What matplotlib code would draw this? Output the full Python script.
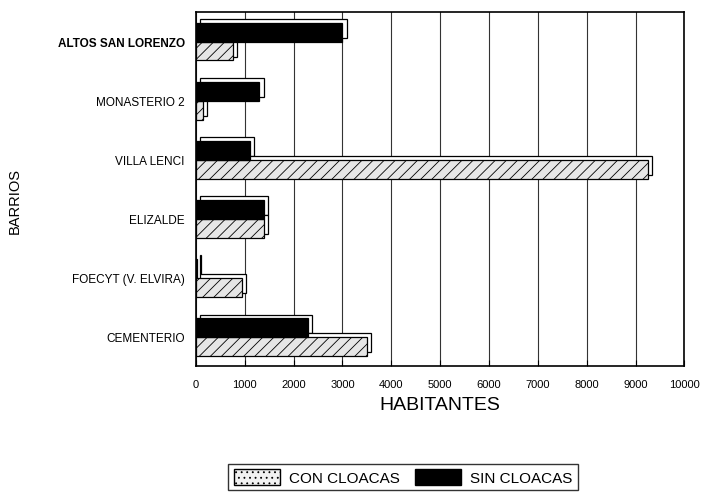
import matplotlib
matplotlib.use("Agg")
import matplotlib.pyplot as plt
import matplotlib.transforms as mtransforms
from matplotlib.patches import Patch
import numpy as np

plt.rcParams['font.family'] = ['Liberation Sans', 'DejaVu Sans']
plt.rcParams['hatch.linewidth'] = 0.6

# datos (de arriba hacia abajo)
barrios = ['ALTOS SAN LORENZO', 'MONASTERIO 2', 'VILLA LENCI',
           'ELIZALDE', 'FOECYT (V. ELVIRA)', 'CEMENTERIO']
con_cloacas = [750, 150, 9250, 1400, 950, 3500]
sin_cloacas = [3000, 1300, 1100, 1400, 30, 2300]

fig = plt.figure(figsize=(7.02, 5.02), dpi=100)
ax = fig.add_axes([0.279, 0.268, 0.696, 0.706])

y = np.arange(len(barrios))[::-1]
h = 0.32

# efecto 3D: una copia desplazada detrás de cada barra
sombra = mtransforms.offset_copy(ax.transData, fig=fig, x=3, y=2.5, units='points')
for vals, off in [(sin_cloacas, h / 2), (con_cloacas, -h / 2)]:
    ax.barh(y + off, vals, height=h, color='white', edgecolor='black',
            linewidth=0.9, transform=sombra, zorder=2)

ax.barh(y - h / 2, con_cloacas, height=h, color='#e6e6e6', edgecolor='black',
        hatch='///', linewidth=0.9, zorder=3)
ax.barh(y + h / 2, sin_cloacas, height=h, color='black', edgecolor='black',
        linewidth=0.9, zorder=3)

ax.set_xlim(0, 10000)
ax.set_ylim(-0.5, len(barrios) - 0.5)
ax.set_xticks(np.arange(0, 10001, 1000))
ax.set_xticklabels([str(v) for v in range(0, 10001, 1000)], fontsize=8)
ax.set_yticks(y)
ax.set_yticklabels(barrios, fontsize=8.5)
ax.get_yticklabels()[0].set_fontweight('bold')
ax.tick_params(axis='y', length=0, pad=8)
ax.tick_params(axis='x', length=4, direction='in', pad=9)
ax.grid(axis='x', color='#333333', linewidth=0.8)
ax.set_axisbelow(True)
for s in ax.spines.values():
    s.set_linewidth(1.2)

ax.set_xlabel('HABITANTES', fontsize=14, labelpad=5)
fig.text(0.021, 0.6, 'BARRIOS', rotation=90, fontsize=10.5, ha='center', va='center')

handles = [Patch(facecolor='#f2f2f2', edgecolor='black', hatch='...', label='CON CLOACAS'),
           Patch(facecolor='black', edgecolor='black', label='SIN CLOACAS')]
fig.legend(handles=handles, loc='center', bbox_to_anchor=(0.574, 0.048), ncol=2,
           fontsize=11, frameon=True, fancybox=False, edgecolor='black',
           handlelength=3.0, handleheight=1.2, handletextpad=0.6,
           columnspacing=1.0, borderpad=0.35)

fig.savefig('out.png', dpi=100)
